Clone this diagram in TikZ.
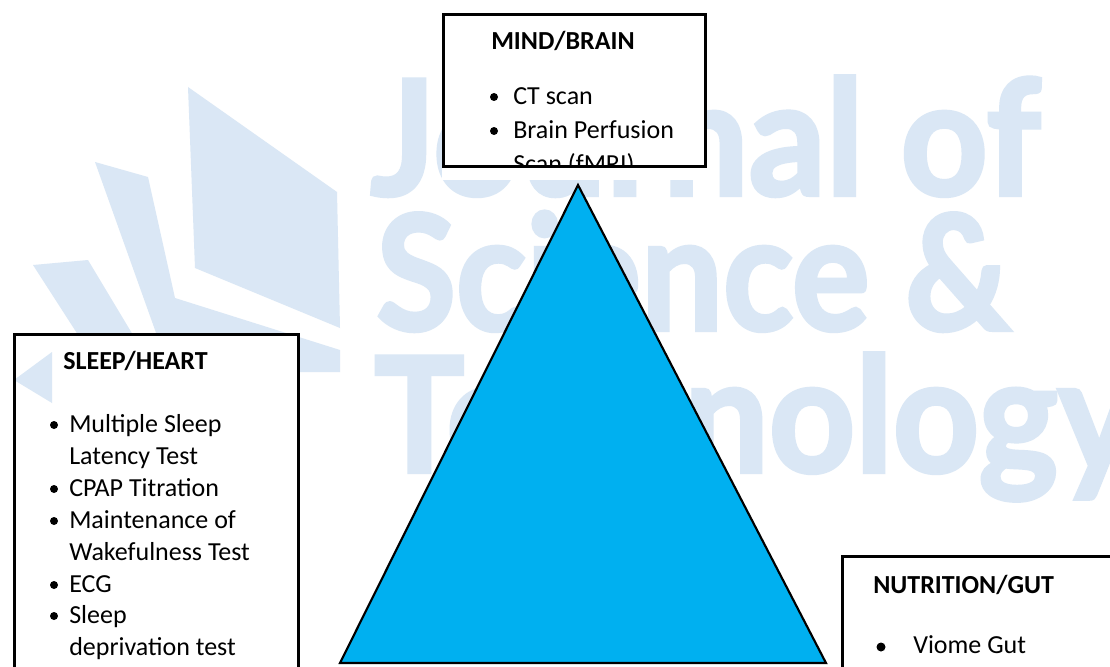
\documentclass[tikz,border=0pt]{standalone}
\usepackage{fontspec}
\setmainfont{Carlito}
\newfontfamily\wmfont{Lato}[BoldFeatures={FakeBold=2.5}]
\definecolor{wm}{RGB}{218,231,245}
\definecolor{tri}{RGB}{0,176,240}
\begin{document}
\begin{tikzpicture}[x=0.75pt,y=-0.75pt,
  wmtext/.style={anchor=base west,inner sep=0pt,text=wm,font=\wmfont\bfseries\fontsize{120}{120}\selectfont},
  ttl/.style={anchor=base west,inner sep=0pt,font=\bfseries\fontsize{19.5}{23}\selectfont},
  itm/.style={anchor=base west,inner sep=0pt,font=\fontsize{19.5}{23}\selectfont},
  frame/.style={draw=black,line width=2.25pt},
  bul/.style={fill=black}]
\clip (0,0) rectangle (1110,667);
\fill[white] (0,0) rectangle (1110,667);
% watermark logo
\fill[wm] (188,87) -- (337,192) -- (340,328) -- (195,268) -- cycle;
\fill[wm] (95,162) -- (148,177) -- (175,298) -- (340,350) -- (340,372) -- (170,372) -- cycle;
\fill[wm] (33,265) -- (88,260) -- (160,380) -- (120,400) -- cycle;
% watermark text
\node[wmtext] (wmA) at (370,195) {\scalebox{0.95}[1]{Journal of}};
\node[wmtext] (wmB) at (376,330) {\scalebox{0.91}[1]{Science \&}};
\node[wmtext] (wmC) at (374,472) {\scalebox{0.94}[1]{Technology}};
% white text areas
\fill[white] (442,13) rectangle (707,180);
\fill[white] (14,334) rectangle (299,667);
\fill[white] (842,556) rectangle (1110,667);
\fill[wm] (52,352) -- (14,380) -- (52,403) -- cycle;
% MIND/BRAIN box
\draw[frame] (443.5,15) rectangle (705.5,166.5);
\begin{scope}
\clip (444,15) rectangle (705,166);
\node[ttl] (mindT) at (491,50) {MIND/BRAIN};
\fill[bul] (494,97) circle (4);
\node[itm] (m1) at (513,104) {CT scan};
\fill[bul] (494,131) circle (4);
\node[itm] (m2) at (513,138) {Brain Perfusion};
\node[itm] (m3) at (513,172) {Scan (fMRI)};
\end{scope}
% SLEEP/HEART box
\draw[frame] (14,334.5) rectangle (298.5,700);
\node[ttl] (sleepT) at (63,369) {SLEEP/HEART};
\fill[bul] (54,425) circle (4);
\node[itm] (s1) at (69,432) {Multiple Sleep};
\node[itm] (s2) at (69,464) {Latency Test};
\fill[bul] (54,489) circle (4);
\node[itm] (s3) at (69,496) {CPAP Titration};
\fill[bul] (54,521) circle (4);
\node[itm] (s4) at (69,528) {Maintenance of};
\node[itm] (s5) at (69,560) {Wakefulness Test};
\fill[bul] (54,585) circle (4);
\node[itm] (s6) at (69,592) {ECG};
\fill[bul] (54,616) circle (4);
\node[itm] (s7) at (69,623) {Sleep};
\node[itm] (s8) at (69,655) {deprivation test};
% NUTRITION/GUT box
\draw[frame] (842.5,556.5) rectangle (1130,700);
\node[ttl] (nutT) at (873,593) {NUTRITION/GUT};
\fill[bul] (881,647) circle (4.5);
\node[itm] (n1) at (913,653) {Viome Gut};
% triangle
\draw[line width=1.6pt,fill=tri] (578,185) -- (340,663) -- (826,663) -- cycle;
\end{tikzpicture}
\end{document}
